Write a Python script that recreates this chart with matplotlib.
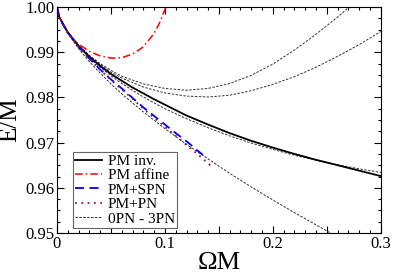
import matplotlib
matplotlib.use("Agg")
import matplotlib.pyplot as plt
from matplotlib.ticker import MultipleLocator, FuncFormatter

plt.rcParams['font.family'] = ['Liberation Serif', 'DejaVu Serif']
plt.rcParams['mathtext.fontset'] = 'stix'

# values
om_pm = [0, 0.002, 0.005, 0.01, 0.02, 0.03, 0.04, 0.05, 0.06, 0.07, 0.08, 0.09, 0.1,
         0.12, 0.14, 0.16, 0.18, 0.2, 0.22, 0.24, 0.26, 0.28, 0.3]
e_pm_inv = [1.0, 0.9979, 0.9965, 0.9944, 0.9914, 0.9890, 0.9870, 0.9852, 0.9837, 0.9822,
            0.9809, 0.9796, 0.9784, 0.9760, 0.9740, 0.9721, 0.9704, 0.9689, 0.9675,
            0.9662, 0.9650, 0.9638, 0.9626]

om_aff = [0, 0.002, 0.005, 0.01, 0.015, 0.02, 0.03, 0.04, 0.05, 0.06, 0.07, 0.08,
          0.09, 0.095, 0.1, 0.101]
e_aff = [1.0, 0.9980, 0.9963, 0.9942, 0.9929, 0.9918, 0.9902, 0.9892, 0.9887, 0.9888,
         0.9896, 0.9912, 0.9942, 0.9965, 0.9995, 1.0]

om_spn = [0, 0.002, 0.005, 0.01, 0.02, 0.03, 0.04, 0.05, 0.06, 0.07, 0.08, 0.09, 0.1,
          0.11, 0.12, 0.135]
e_spn = [1.0, 0.9979, 0.9965, 0.9944, 0.9912, 0.9886, 0.9862, 0.9840, 0.9820, 0.9799,
         0.9778, 0.9759, 0.9740, 0.9721, 0.9703, 0.9673]

om_ppn = [0, 0.002, 0.005, 0.01, 0.02, 0.03, 0.04, 0.05, 0.06, 0.07, 0.08, 0.09, 0.1,
          0.11, 0.12, 0.13, 0.142]
e_ppn = [1.0, 0.9979, 0.9965, 0.9944, 0.9912, 0.9885, 0.9861, 0.9839, 0.9818, 0.9797,
         0.9775, 0.9755, 0.9735, 0.9715, 0.9695, 0.9675, 0.9650]

om_pn = [0, 0.002, 0.005, 0.01, 0.02, 0.03, 0.04, 0.05, 0.06, 0.08, 0.1, 0.12, 0.14,
         0.16, 0.18, 0.2, 0.22, 0.24, 0.26, 0.28, 0.3]
e_0pn = [1.0, 0.9980, 0.9963, 0.9942, 0.9908, 0.9879, 0.9854, 0.9830, 0.9808, 0.9768,
         0.9731, 0.9696, 0.9664, 0.9632, 0.9602, 0.9573, 0.9545, 0.9518, 0.9491,
         0.9465, 0.9440]
e_1pn = [1.0, 0.9980, 0.9965, 0.9944, 0.9913, 0.9888, 0.9867, 0.9848, 0.9831, 0.9801,
         0.9775, 0.9753, 0.9733, 0.9715, 0.9699, 0.9685, 0.9672, 0.9661, 0.9651,
         0.9642, 0.9634]
e_2pn = [1.0, 0.9980, 0.9965, 0.9945, 0.9915, 0.9892, 0.9873, 0.9856, 0.9843, 0.9823,
         0.9810, 0.9803, 0.9801, 0.9805, 0.9815, 0.9829, 0.9846, 0.9867, 0.9891,
         0.9917, 0.9946]
e_3pn = [1.0, 0.9980, 0.9965, 0.9945, 0.9916, 0.9893, 0.9875, 0.9860, 0.9847, 0.9830,
         0.9820, 0.9816, 0.9820, 0.9831, 0.9849, 0.9874, 0.9905, 0.9940, 0.9978,
         1.0020, 1.0065]

fig = plt.figure(figsize=(3.93, 2.73), dpi=100)
ax = fig.add_axes([0.145, 0.1465, 0.824, 0.8275])

pn_style = dict(color='#333333', lw=0.7, ls=(0, (2.5, 1.5)))
ax.plot(om_pn, e_0pn, **pn_style)
ax.plot(om_pn, e_1pn, **pn_style)
ax.plot(om_pn, e_2pn, **pn_style)
ax.plot(om_pn, e_3pn, **pn_style)
ax.plot(om_pm, e_pm_inv, color='black', lw=1.3, label='PM inv.')
ax.plot(om_aff, e_aff, color='red', lw=1.1, ls=(0, (5, 2, 1, 2)), label='PM affine')
ax.plot(om_spn, e_spn, color='blue', lw=1.3, ls=(0, (5, 3)), label='PM+SPN')
ax.plot(om_ppn, e_ppn, color='#8b1a4a', lw=1.3, ls=(0, (1, 2.5)), label='PM+PN')
ax.plot([], [], label='0PN - 3PN', **pn_style)

ax.set_xlim(0, 0.3)
ax.set_ylim(0.95, 1.0)
ax.xaxis.set_major_locator(MultipleLocator(0.05))
ax.xaxis.set_minor_locator(MultipleLocator(0.01))
ax.xaxis.set_major_formatter(FuncFormatter(
    lambda v, p: ('0' if abs(v) < 1e-9 else '%.1f' % v) if abs(v * 10 - round(v * 10)) < 1e-6 else ''))
ax.yaxis.set_major_locator(MultipleLocator(0.01))
ax.yaxis.set_minor_locator(MultipleLocator(0.0025))
ax.yaxis.set_major_formatter(FuncFormatter(lambda v, p: '%.2f' % v))
ax.tick_params(which='both', direction='in', top=True, right=True, labelsize=12, pad=2)
ax.tick_params(which='major', length=5, width=0.8)
ax.tick_params(which='minor', length=2.5, width=0.8)

ax.set_xlabel('ΩM', fontsize=19, labelpad=0.5)
ax.set_ylabel('E/M', fontsize=18, labelpad=3)

leg = ax.legend(loc='lower left', bbox_to_anchor=(0.048, 0.022), fontsize=11,
                fancybox=False, edgecolor='#666666', framealpha=1, handlelength=1.8,
                handletextpad=0.35, labelspacing=0.05, borderpad=0.15, borderaxespad=0)
leg.get_frame().set_linewidth(0.8)

fig.savefig('out.png', dpi=100)
